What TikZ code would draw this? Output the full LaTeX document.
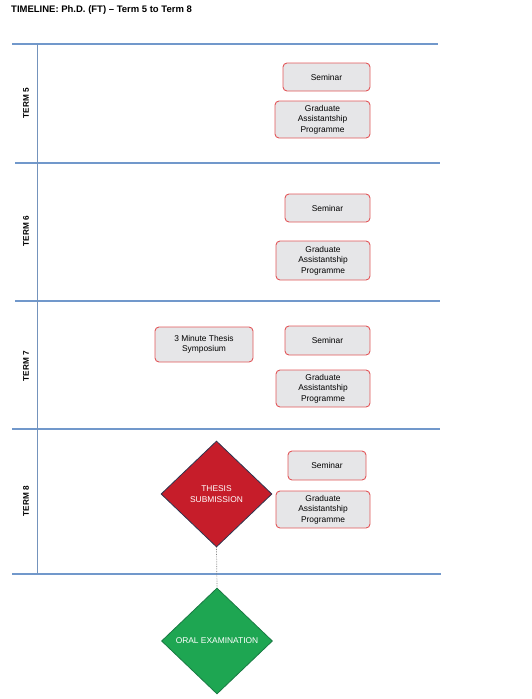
\documentclass[tikz,border=0pt]{standalone}
\usepackage{fontspec}
\setmainfont{Liberation Sans}
\usetikzlibrary{shapes.geometric}
\definecolor{cblue}{HTML}{7198CB}
\definecolor{cred}{HTML}{E2575A}
\definecolor{cbox}{HTML}{E6E6E8}
\definecolor{cthesis}{HTML}{C61D2A}
\definecolor{cnavy}{HTML}{2E3550}
\definecolor{coral}{HTML}{1EA652}
\definecolor{cgreenline}{HTML}{1A7A44}
\tikzset{
  every picture/.style={font=\fontsize{8.4}{10.5}\selectfont},
  task/.style={draw=cred, fill=cbox, rounded corners=4pt, align=center, line width=0.9pt, inner sep=1pt},
  rule/.style={draw=cblue, line width=1.2pt},
  axis/.style={draw=cblue!80!gray, line width=0.6pt},
  term/.style={font=\fontsize{8.2}{10}\selectfont\bfseries, rotate=90},
  milestone/.style={diamond, draw=#1, inner sep=0pt, minimum width=111pt, minimum height=106pt, line width=0.8pt, text=white, align=center},
}
\begin{document}
\begin{tikzpicture}[x=1pt, y=-1pt]
  \useasboundingbox (0,0) rectangle (531,699);
  \node[font=\fontsize{9.5}{11}\selectfont\bfseries, anchor=west, inner sep=0pt] (title) at (11,10) {TIMELINE: Ph.D. (FT) -- Term 5 to Term 8};
  % term dividers
  \draw[rule] (12,44) -- (438,44);
  \draw[rule] (15,163) -- (440,163);
  \draw[rule] (15,301) -- (440,301);
  \draw[rule] (12,429) -- (440,429);
  \draw[rule] (12,574) -- (441,574);
  \draw[axis] (37,44) -- (37,574);
  % term labels
  \foreach \t/\y in {5/103, 6/231, 7/366, 8/501} \node[term] (term\t) at (26,\y) {TERM \t};
  % term 5
  \node[task, minimum width=87pt, minimum height=28pt] (sem5) at (326.5,77) {Seminar};
  \node[task, minimum width=95pt, minimum height=37pt] (gap5) at (322.5,119.5) {Graduate\\Assistantship\\Programme};
  % term 6
  \node[task, minimum width=85pt, minimum height=28pt] (sem6) at (327.5,208) {Seminar};
  \node[task, minimum width=94pt, minimum height=39pt] (gap6) at (323,260.5) {Graduate\\Assistantship\\Programme};
  % term 7
  \node[task, minimum width=98pt, minimum height=35pt] (tmt) at (204,344.5) {3 Minute Thesis\\Symposium};
  \node[task, minimum width=85pt, minimum height=29pt] (sem7) at (327.5,340.5) {Seminar};
  \node[task, minimum width=94pt, minimum height=37pt] (gap7) at (323,388.5) {Graduate\\Assistantship\\Programme};
  % term 8
  \node[task, minimum width=78pt, minimum height=29pt] (sem8) at (327,465.5) {Seminar};
  \node[task, minimum width=94pt, minimum height=37pt] (gap8) at (323,509.5) {Graduate\\Assistantship\\Programme};
  % milestones
  \node[milestone=cnavy, fill=cthesis] (thesis) at (216.5,494) {THESIS\\SUBMISSION};
  \node[milestone=cgreenline, fill=coral] (oral) at (217,641) {ORAL EXAMINATION};
  \draw[gray, densely dotted, line width=0.7pt] (thesis.south) -- (oral.north);
\end{tikzpicture}
\end{document}
